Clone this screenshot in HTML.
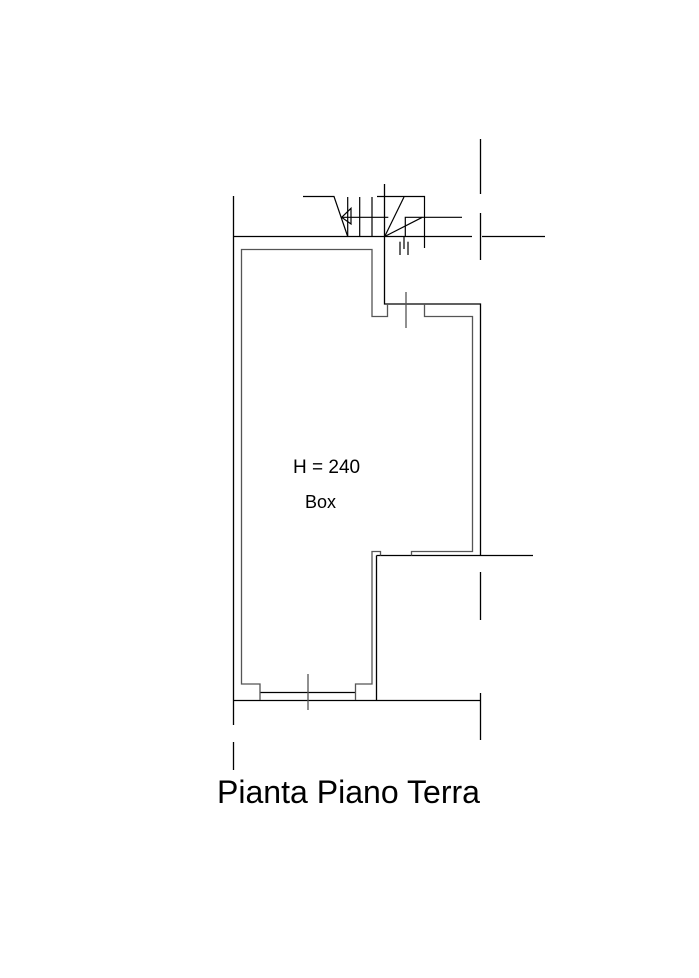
<!DOCTYPE html>
<html><head><meta charset="utf-8"><style>
html,body{margin:0;padding:0;background:#fff;}
svg{display:block;}
text{font-family:"Liberation Sans",Arial,sans-serif;fill:#000;}
</style></head><body>
<svg width="699" height="978" viewBox="0 0 699 978" xmlns="http://www.w3.org/2000/svg">
<g fill="none" stroke="#000" stroke-width="1.3">
<!-- outer walls -->
<line x1="233.5" y1="196" x2="233.5" y2="725"/>
<line x1="233.5" y1="742" x2="233.5" y2="770"/>
<line x1="233" y1="236.5" x2="472" y2="236.5"/>
<line x1="482" y1="236.5" x2="545" y2="236.5"/>
<polyline points="384.5,184 384.5,304 480.5,304 480.5,555.5"/>
<line x1="376.5" y1="555.5" x2="533" y2="555.5"/>
<line x1="376.5" y1="555.5" x2="376.5" y2="700"/>
<line x1="233" y1="700.5" x2="480.5" y2="700.5"/>
<line x1="480.5" y1="139" x2="480.5" y2="194"/>
<line x1="480.5" y1="213" x2="480.5" y2="260"/>
<line x1="480.5" y1="572" x2="480.5" y2="620"/>
<line x1="480.5" y1="693" x2="480.5" y2="740"/>
<line x1="260" y1="692.5" x2="355.5" y2="692.5"/>
</g>
<g fill="none" stroke="#555" stroke-width="1.3">
<polyline points="260,700 260,684 241.5,684 241.5,249.5 372,249.5 372,316.5 387.5,316.5 387.5,304"/>
<polyline points="424.5,304 424.5,316.5 472.5,316.5 472.5,551.5 411.5,551.5 411.5,555.5"/>
<polyline points="355.5,700 355.5,684 372,684 372,551.5 380.5,551.5 380.5,555.5"/>
<line x1="406" y1="292" x2="406" y2="328"/>
<line x1="308" y1="674" x2="308" y2="710"/>
</g>
<!-- top details -->
<g fill="none" stroke="#000" stroke-width="1.2">
<polyline points="303,196.5 334,196.5 347.7,236.5"/>
<line x1="347.7" y1="197" x2="347.7" y2="236.5"/>
<line x1="359.7" y1="197" x2="359.7" y2="236.5"/>
<line x1="372" y1="197" x2="372" y2="236.5"/>
<polyline points="377,196.5 424.5,196.5 424.5,248"/>
<line x1="384.7" y1="236.5" x2="404" y2="197"/>
<line x1="384.7" y1="236.5" x2="422.3" y2="217.3"/>
<polyline points="405.3,236.5 405.3,217.3 462,217.3"/>
<line x1="341.7" y1="217.3" x2="388.3" y2="217.3"/>
<polygon points="341.7,217.3 351,208.3 351,224"/>
<line x1="400" y1="241.7" x2="400" y2="255"/>
<line x1="408" y1="241.7" x2="408" y2="255"/>
<line x1="404" y1="236.5" x2="404" y2="249"/>
</g>
<text x="293" y="473" font-size="19">H = 240</text>
<text x="305" y="508" font-size="18">Box</text>
<text x="217" y="803" font-size="32" textLength="263" lengthAdjust="spacingAndGlyphs">Pianta Piano Terra</text>
</svg>
</body></html>
